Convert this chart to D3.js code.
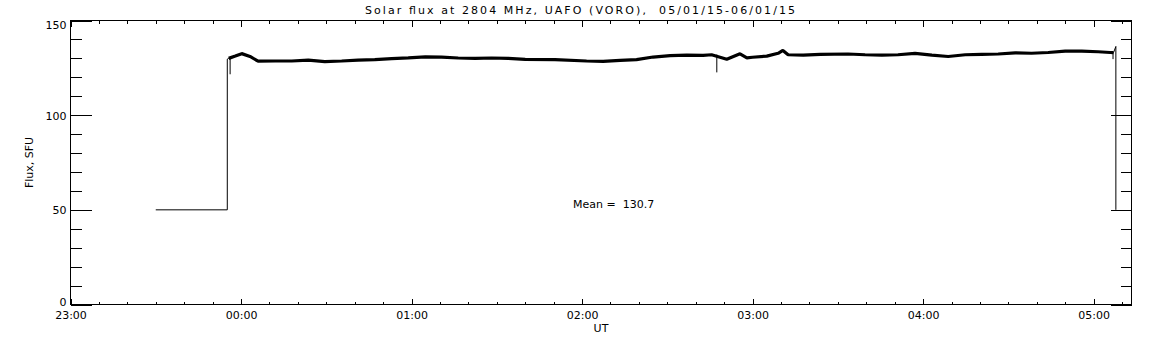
<!DOCTYPE html>
<html>
<head>
<meta charset="utf-8">
<script src="https://cdn.jsdelivr.net/npm/d3@7"></script>
<style>
    body { margin: 0; background: #fff; }
    svg { display: block; font-family: "DejaVu Sans", sans-serif; font-size: 11px; }
    .frame, .tick line { stroke: #000; shape-rendering: crispEdges; }
    .domain { display: none; }
</style>
</head>
<body>
<svg id="chart" width="1152" height="345"></svg>
<script>
(function () {
    "use strict";

    // UT clock times (runs past midnight) and flux in SFU
    const TIMES = [
        "23:30:00", "23:55:10", "23:55:10", "23:55:40", "23:58:00", "00:00:15",
        "00:03:10", "00:06:00", "00:12:00", "00:17:50", "00:23:40", "00:29:30",
        "00:35:25", "00:41:10", "00:47:05", "00:53:00", "00:58:50", "01:04:50",
        "01:10:35", "01:16:25", "01:22:25", "01:28:10", "01:34:00", "01:40:00",
        "01:50:30", "02:01:35", "02:07:25", "02:13:25", "02:19:10", "02:25:00",
        "02:31:00", "02:36:50", "02:42:35", "02:45:35", "02:50:55", "02:55:35",
        "02:58:00", "03:00:00", "03:05:00", "03:09:00", "03:10:40", "03:12:30",
        "03:17:50", "03:23:50", "03:33:35", "03:39:35", "03:45:30", "03:51:10",
        "03:57:10", "04:03:05", "04:08:50", "04:14:50", "04:20:35", "04:26:25",
        "04:32:25", "04:38:10", "04:44:00", "04:50:00", "04:55:50", "05:01:35",
        "05:05:50", "05:07:00", "05:07:50", "05:07:50"
    ];
    const FLUX = [
        50, 50, 129.6, 130.0, 131.2, 132.5,
        131.0, 128.5, 128.6, 128.6, 129.1, 128.3,
        128.6, 129.1, 129.3, 129.9, 130.3, 130.8,
        130.7, 130.2, 130.0, 130.2, 130.0, 129.5,
        129.3, 128.6, 128.4, 128.9, 129.3, 130.7,
        131.4, 131.7, 131.6, 131.9, 129.5, 132.4,
        130.3, 130.6, 131.2, 132.7, 134.2, 131.9,
        131.7, 132.1, 132.3, 131.9, 131.7, 131.9,
        132.6, 131.7, 131.0, 131.9, 132.1, 132.3,
        132.9, 132.7, 133.1, 133.8, 133.8, 133.5,
        133.1, 133.0, 136.3, 50
    ];
    // the noisy part of the record, drawn as a thick band
    const BAND_FROM = "23:55:40";
    const BAND_TO = "05:07:00";

    // single-sample dropouts
    const SPIKE_TIMES = ["23:56:10", "02:47:25", "05:06:50"];
    const SPIKE_TOP = [130.0, 132.0, 133.0];
    const SPIKE_LOW = [121.6, 122.6, 129.6];

    const X_START = "23:00:00";
    const X_END = "05:13:20";
    const Y_MAX = 150;
    const Y_TICKS = [0, 50, 100, 150];
    const MEAN = 130.7;

    const TITLE = "Solar flux at 2804 MHz, UAFO (VORO),  05/01/15-06/01/15";

    // clock time -> Date; hours before noon belong to the next day
    function toDate(s) {
        const [h, m, sec] = s.split(":").map(Number);
        return new Date(Date.UTC(2015, 0, h >= 12 ? 5 : 6, h, m, sec));
    }

    const svg = d3.select("#chart");
    const left = 70.5, right = 1131.5, top = 20.5, bottom = 304.5;

    const x = d3.scaleUtc()
        .domain([toDate(X_START), toDate(X_END)])
        .range([left, right]);
    const y = d3.scaleLinear()
        .domain([0, Y_MAX])
        .range([bottom, top]);

    const data = TIMES.map((t, i) => ({ t: toDate(t), v: FLUX[i] }));

    // minor ticks first, majors on top
    const minorX = d3.utcMinute.every(10);
    svg.append("g")
        .attr("transform", `translate(0,${bottom})`)
        .call(d3.axisBottom(x).ticks(minorX).tickSize(-3).tickFormat(""));
    svg.append("g")
        .attr("transform", `translate(0,${top})`)
        .call(d3.axisTop(x).ticks(minorX).tickSize(-3).tickFormat(""));
    svg.append("g")
        .attr("transform", `translate(0,${bottom})`)
        .call(d3.axisBottom(x).ticks(d3.utcHour.every(1)).tickSize(-6)
            .tickPadding(7).tickFormat(d3.utcFormat("%H:%M")));
    svg.append("g")
        .attr("transform", `translate(0,${top})`)
        .call(d3.axisTop(x).ticks(d3.utcHour.every(1)).tickSize(-6).tickFormat(""));

    const minorY = d3.range(0, Y_MAX + 1, 10);
    svg.append("g")
        .attr("transform", `translate(${left},0)`)
        .call(d3.axisLeft(y).tickValues(minorY).tickSize(-11).tickFormat(""));
    svg.append("g")
        .attr("transform", `translate(${right},0)`)
        .call(d3.axisRight(y).tickValues(minorY).tickSize(-11).tickFormat(""));
    const yAxis = svg.append("g")
        .attr("transform", `translate(${left},0)`)
        .call(d3.axisLeft(y).tickValues(Y_TICKS).tickSize(-21).tickPadding(4));
    svg.append("g")
        .attr("transform", `translate(${right},0)`)
        .call(d3.axisRight(y).tickValues(Y_TICKS).tickSize(-21).tickFormat(""));

    // edge labels sit inside the frame, like the original
    yAxis.selectAll(".tick text")
        .attr("dy", (d) => d === Y_MAX ? "0.75em" : d === 0 ? "0.1em" : "0.35em");
    svg.selectAll(".tick text").attr("fill", "#000").style("font-size", "11px")
        .style("font-family", "'DejaVu Sans', sans-serif");

    svg.append("rect")
        .attr("class", "frame")
        .attr("x", left).attr("y", top)
        .attr("width", right - left).attr("height", bottom - top)
        .attr("fill", "none");

    const line = d3.line().x((d) => x(d.t)).y((d) => y(d.v));

    svg.append("path")
        .datum(data)
        .attr("d", line)
        .attr("fill", "none")
        .attr("stroke", "#000")
        .attr("stroke-width", 1);

    const b0 = toDate(BAND_FROM), b1 = toDate(BAND_TO);
    svg.append("path")
        .datum(data.filter((d) => d.t >= b0 && d.t <= b1))
        .attr("d", line)
        .attr("fill", "none")
        .attr("stroke", "#000")
        .attr("stroke-width", 3.2)
        .attr("stroke-linejoin", "bevel");

    svg.selectAll(".spike")
        .data(SPIKE_TIMES)
        .enter()
        .append("line")
        .attr("class", "spike")
        .attr("x1", (d) => x(toDate(d))).attr("x2", (d) => x(toDate(d)))
        .attr("y1", (d, i) => y(SPIKE_TOP[i]))
        .attr("y2", (d, i) => y(SPIKE_LOW[i]))
        .attr("stroke", "#000")
        .attr("stroke-width", 1);

    // texts
    svg.append("text")
        .attr("x", 365).attr("y", 14)
        .attr("textLength", 430).attr("lengthAdjust", "spacing")
        .style("white-space", "pre")
        .text(TITLE);

    svg.append("text")
        .attr("x", (left + right) / 2).attr("y", 332)
        .attr("text-anchor", "middle")
        .text("UT");

    svg.append("text")
        .attr("transform", `translate(33,${(top + bottom) / 2}) rotate(-90)`)
        .attr("text-anchor", "middle")
        .text("Flux, SFU");

    svg.append("text")
        .attr("x", 573).attr("y", 208)
        .style("white-space", "pre")
        .text("Mean =  " + MEAN.toFixed(1));
})();
</script>
</body>
</html>
